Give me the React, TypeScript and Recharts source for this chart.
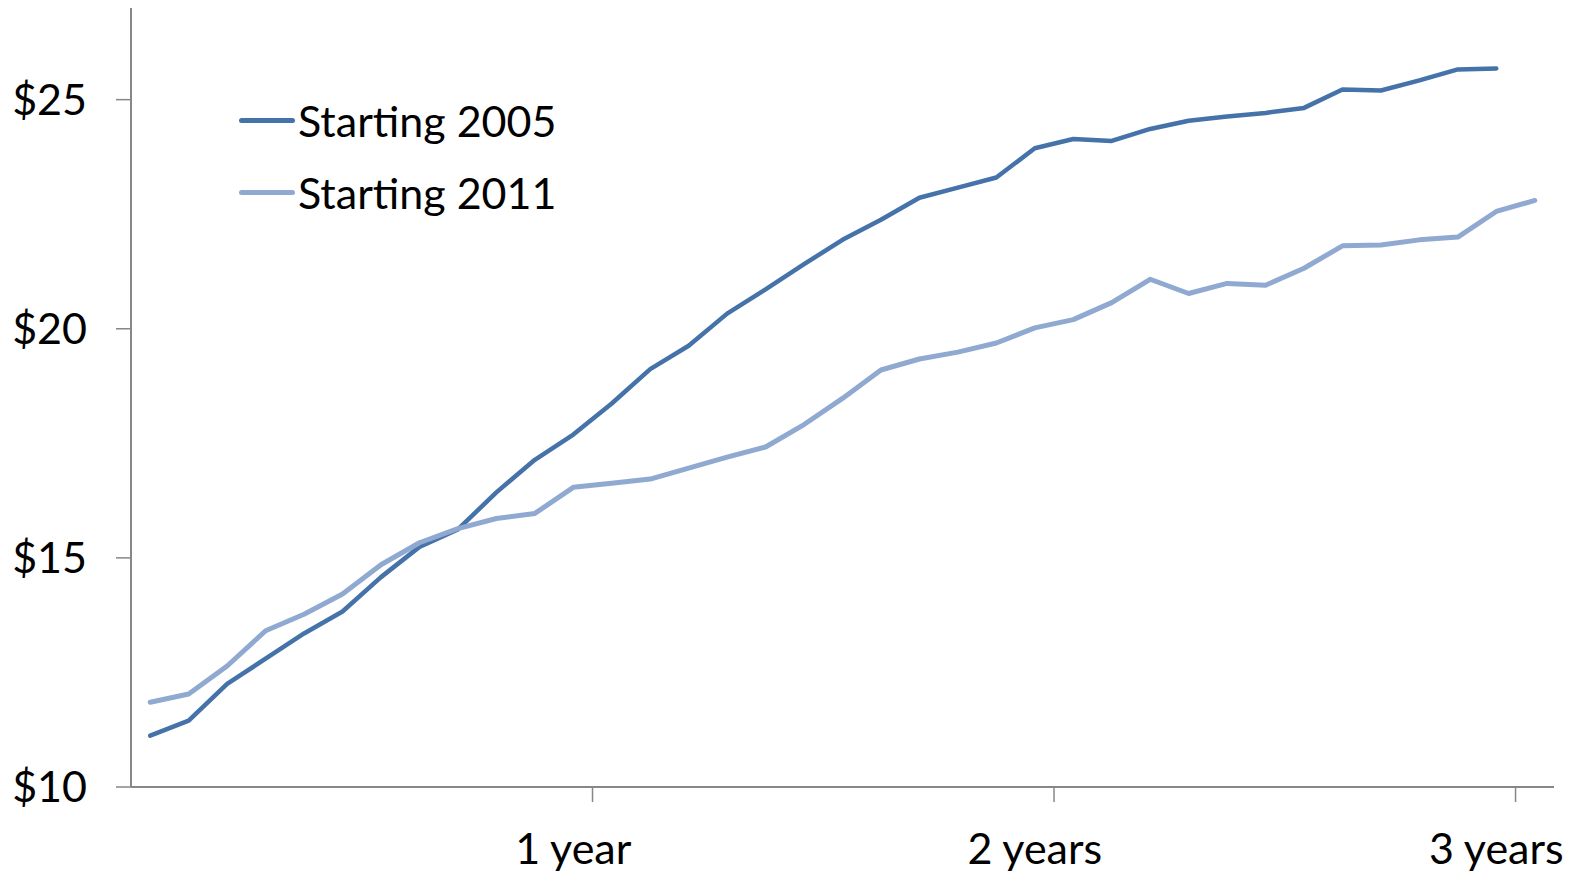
import { LineChart, Line, XAxis, YAxis } from 'recharts'

// monthly positions over three years (37 slots)
const months = [
  1, 2, 3, 4, 5, 6, 7, 8, 9, 10, 11, 12, 13, 14, 15, 16, 17, 18, 19, 20, 21,
  22, 23, 24, 25, 26, 27, 28, 29, 30, 31, 32, 33, 34, 35, 36, 37,
]

const starting2005 = [
  11.12, 11.45, 12.25, 12.8, 13.35, 13.83, 14.58, 15.24, 15.62, 16.43, 17.14,
  17.69, 18.37, 19.12, 19.63, 20.33, 20.86, 21.41, 21.94, 22.38, 22.86, 23.08,
  23.3, 23.94, 24.14, 24.1, 24.36, 24.54, 24.63, 24.71, 24.82, 25.22, 25.2,
  25.42, 25.66, 25.68,
]

const starting2011 = [
  11.85, 12.03, 12.64, 13.41, 13.77, 14.21, 14.85, 15.33, 15.64, 15.86, 15.97,
  16.54, 16.63, 16.72, 16.96, 17.2, 17.42, 17.91, 18.48, 19.1, 19.34, 19.49,
  19.69, 20.02, 20.2, 20.57, 21.08, 20.77, 20.99, 20.95, 21.32, 21.81, 21.83,
  21.94, 22.0, 22.56, 22.8,
]

const yearTicks = [12, 24, 36]
const yearLabels = ['1 year', '2 years', '3 years']
const dollarTicks = [10, 15, 20, 25]

const series = [
  { key: 's2005', name: 'Starting 2005', color: '#4472a9', width: 4.5 },
  { key: 's2011', name: 'Starting 2011', color: '#8fa9d1', width: 5 },
]

const W = 1583
const H = 872
const AXIS_W = 131
const RIGHT = 29
const FONT = 'Lato, "Open Sans", sans-serif'
const FONT_SIZE = 43
const AXIS_COLOR = '#878787'

// each month sits in the middle of its slot, year ticks fall between slots
const data = months.map((m, i) => ({
  pos: m - 0.5,
  s2005: i < starting2005.length ? starting2005[i] : null,
  s2011: starting2011[i],
}))

const halfSlot = (W - AXIS_W - RIGHT) / months.length / 2

const YearTick = ({ x, y, payload }: any) => {
  const idx = yearTicks.indexOf(payload.value)
  return (
    <text
      x={x - halfSlot}
      y={y}
      dy={60}
      textAnchor="middle"
      fill="#000"
      fontSize={FONT_SIZE}
      fontFamily={FONT}
    >
      {yearLabels[idx]}
    </text>
  )
}

export default function App() {
  return (
    <div style={{ position: 'absolute', left: 0, top: 0, width: W, height: H, background: '#fff' }}>
      <LineChart
        width={W}
        height={H}
        data={data}
        margin={{ top: 8, right: RIGHT, bottom: 0, left: 0 }}
      >
        <XAxis
          dataKey="pos"
          type="number"
          domain={[0, months.length]}
          ticks={yearTicks}
          height={85}
          axisLine={{ stroke: AXIS_COLOR, strokeWidth: 2 }}
          tickLine={{ stroke: AXIS_COLOR, strokeWidth: 1.5 }}
          tickSize={15}
          tick={<YearTick />}
          interval={0}
        />
        <YAxis
          type="number"
          domain={[10, 27]}
          ticks={dollarTicks}
          width={AXIS_W}
          axisLine={{ stroke: AXIS_COLOR, strokeWidth: 2 }}
          tickLine={{ stroke: AXIS_COLOR, strokeWidth: 1.5 }}
          tickSize={15}
          tickMargin={29}
          tickFormatter={(v: number) => `$${v}`}
          tick={{ fill: '#000', fontSize: FONT_SIZE, fontFamily: FONT }}
          allowDataOverflow
        />
        {series.map((s) => (
          <Line
            key={s.key}
            type="linear"
            dataKey={s.key}
            name={s.name}
            stroke={s.color}
            strokeWidth={s.width}
            strokeLinecap="round"
            strokeLinejoin="round"
            dot={false}
            activeDot={false}
            connectNulls={false}
            isAnimationActive={false}
          />
        ))}
      </LineChart>
      {series.map((s, i) => (
        <div
          key={s.key}
          style={{
            position: 'absolute',
            left: 239,
            top: 120 + i * 72 - 30,
            height: 60,
            display: 'flex',
            alignItems: 'center',
            fontFamily: FONT,
            fontSize: FONT_SIZE,
            color: '#000',
            whiteSpace: 'nowrap',
          }}
        >
          <span
            style={{
              display: 'inline-block',
              width: 56,
              height: 5,
              borderRadius: 3,
              background: s.color,
              marginRight: 3,
            }}
          />
          {s.name}
        </div>
      ))}
    </div>
  )
}
